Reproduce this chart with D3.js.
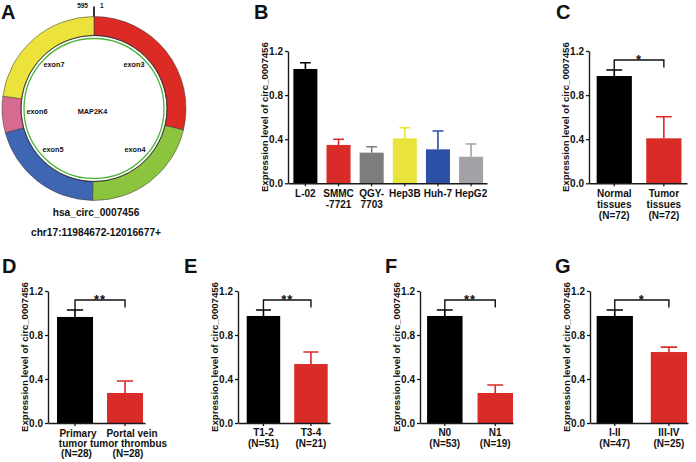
<!DOCTYPE html>
<html><head><meta charset="utf-8">
<script src="https://cdn.jsdelivr.net/npm/d3@7"></script>
<style>
body{margin:0;background:#fff}
svg{display:block}
text{font-family:"Liberation Sans",Arial,Helvetica,sans-serif;font-weight:bold;fill:#111}
</style>
</head><body>
<svg id="chart" width="696" height="462"></svg>
<script>
// ---------- Panel A data ----------
const exonNames = ["exon3", "exon4", "exon5", "exon6", "exon7"];
const exonLengths = [171, 128, 122, 38, 136];
const exonColors = ["#dc2a25", "#8cc43e", "#3e66b3", "#d76b8f", "#ebe33b"];
const circName = "hsa_circ_0007456";
const circLocus = "chr17:11984672-12016677+";
const hostGene = "MAP2K4";
const circEndLabels = ["595", "1"];

// ---------- Shared axis ----------
const yTicks = [0, 0.4, 0.8, 1.2];
const yTitle = "Expression level of circ_0007456";

// ---------- Panel B data ----------
const cellLines = ["L-02", "SMMC-7721", "QGY-7703", "Hep3B", "Huh-7", "HepG2"];
const cellLabels = [["L-02"], ["SMMC", "-7721"], ["QGY-", "7703"], ["Hep3B"], ["Huh-7"], ["HepG2"]];
const cellMeans = [1.037, 0.348, 0.278, 0.408, 0.308, 0.241];
const cellErr = [0.057, 0.052, 0.054, 0.096, 0.166, 0.115];
const cellColors = ["#000000", "#d92b27", "#7d7d7d", "#e8e43c", "#2b50a5", "#a2a2a6"];

// ---------- Panel C data ----------
const tissueLabels = [["Normal", "tissues", "(N=72)"], ["Tumor", "tissues", "(N=72)"]];
const tissueMeans = [0.973, 0.408];
const tissueErr = [0.055, 0.196];

// ---------- Panel D data ----------
const pvttLabels = [["Primary", "tumor", "(N=28)"], ["Portal vein", "tumor thrombus", "(N=28)"]];
const pvttMeans = [0.964, 0.273];
const pvttErr = [0.063, 0.109];

// ---------- Panel E data ----------
const tLabels = [["T1-2", "(N=51)"], ["T3-4", "(N=21)"]];
const tMeans = [0.973, 0.536];
const tErr = [0.054, 0.109];

// ---------- Panel F data ----------
const nLabels = [["N0", "(N=53)"], ["N1", "(N=19)"]];
const nMeans = [0.973, 0.273];
const nErr = [0.054, 0.072];

// ---------- Panel G data ----------
const stageLabels = [["I-II", "(N=47)"], ["III-IV", "(N=25)"]];
const stageMeans = [0.973, 0.645];
const stageErr = [0.054, 0.045];

const pairColors = ["#000000", "#d92b27"];
const sigMarks = ["*", "**", "**", "**", "*"];

const svg = d3.select("#chart");

// ---------- Panel A ----------
(function () {
  const cx = 94, cy = 108.5, rOut = 92, rIn = 73;
  const g = svg.append("g").attr("transform", `translate(${cx},${cy})`);
  const pie = d3.pie().sort(null).value(d => d)(exonLengths);
  const arc = d3.arc().innerRadius(rIn).outerRadius(rOut);
  g.selectAll("path.seg").data(pie).enter().append("path")
    .attr("class", "seg")
    .attr("d", arc)
    .attr("fill", (d, i) => exonColors[i])
    .attr("stroke", "#333").attr("stroke-width", 0.5);
  g.append("circle").attr("r", rIn).attr("fill", "none").attr("stroke", "#222").attr("stroke-width", 0.8);
  g.append("circle").attr("r", rIn - 3).attr("fill", "none").attr("stroke", "#4db33a").attr("stroke-width", 1.3);
  // start tick
  g.append("line").attr("x1", 0).attr("x2", 0).attr("y1", -rOut - 10).attr("y2", -rOut)
    .attr("stroke", "#000").attr("stroke-width", 1.6);
  g.append("text").attr("x", -6).attr("y", -rOut - 8.5).attr("text-anchor", "end")
    .attr("font-size", 6.5).text(circEndLabels[0]);
  g.append("text").attr("x", 6).attr("y", -rOut - 8.5).attr("text-anchor", "start")
    .attr("font-size", 6.5).text(circEndLabels[1]);
  // exon labels
  const labelPos = [[40, -42], [41, 43], [-41, 43], [-57, 5], [-40, -42]];
  exonNames.forEach((name, i) => {
    g.append("text").attr("x", labelPos[i][0]).attr("y", labelPos[i][1])
      .attr("text-anchor", "middle").attr("font-size", 7.3).text(name);
  });
  g.append("text").attr("x", -1.5).attr("y", 5).attr("text-anchor", "middle")
    .attr("font-size", 7.3).text(hostGene);
  svg.append("text").attr("x", cx + 2).attr("y", 216).attr("text-anchor", "middle")
    .attr("font-size", 10.2).text(circName);
  svg.append("text").attr("x", cx + 2).attr("y", 235.5).attr("text-anchor", "middle")
    .attr("font-size", 10.2).text(circLocus);
})();

// ---------- generic bar panel ----------
function barPanel(cfg) {
  const n = cfg.means.length;
  const g = svg.append("g");
  const x = d3.scaleBand().domain(d3.range(n)).range([cfg.x0, cfg.x1])
    .paddingInner(cfg.pi).paddingOuter(cfg.po).align(cfg.al);
  const y = d3.scaleLinear().domain([0, 1.2]).range([cfg.yb, cfg.yt]);
  const bw = x.bandwidth();
  const cap = bw * 0.45;

  // bars
  g.selectAll("rect.bar").data(cfg.means).enter().append("rect")
    .attr("x", (d, i) => x(i)).attr("width", bw)
    .attr("y", d => y(d)).attr("height", d => y(0) - y(d))
    .attr("fill", (d, i) => cfg.colors[i]);
  // error bars (upper only)
  cfg.means.forEach((m, i) => {
    const cxp = x(i) + bw / 2, top = y(m + cfg.errs[i]);
    g.append("path")
      .attr("d", `M${cxp},${y(m)}V${top}M${cxp - cap / 2},${top}H${cxp + cap / 2}`)
      .attr("stroke", cfg.colors[i]).attr("stroke-width", 1.6).attr("fill", "none");
  });

  // y axis
  const ya = g.append("g").attr("transform", `translate(${cfg.x0},0)`)
    .call(d3.axisLeft(y).tickValues(yTicks).tickFormat(d3.format(".1f")).tickSize(3).tickSizeOuter(0).tickPadding(2));
  // x axis
  const xa = g.append("g").attr("transform", `translate(0,${cfg.yb})`)
    .call(d3.axisBottom(x).tickSize(3).tickSizeOuter(0).tickFormat(""));
  [ya, xa].forEach(a => {
    a.select(".domain").attr("stroke", "#1a1a1a").attr("stroke-width", 1.4);
    a.selectAll(".tick line").attr("stroke", "#1a1a1a").attr("stroke-width", 1.3);
    a.selectAll(".tick text").attr("font-size", 10).attr("fill", "#111")
      .style("font-family", '"Liberation Sans",Arial,sans-serif').style("font-weight", "bold");
  });

  // category labels
  cfg.labels.forEach((lines, i) => {
    const t = g.append("text").attr("text-anchor", "middle").attr("font-size", 10);
    lines.forEach((ln, k) => {
      const dx = cfg.labDx ? cfg.labDx[i][k] : 0;
      t.append("tspan").attr("x", x(i) + bw / 2 + dx).attr("y", cfg.yb + cfg.lab0 + k * cfg.labStep).text(ln);
    });
  });

  // y title
  g.append("text")
    .attr("transform", `translate(${cfg.x0 - 20},${(cfg.yt + cfg.yb) / 2}) rotate(-90)`)
    .attr("text-anchor", "middle").attr("font-size", 9.6).text(yTitle);

  // panel letter
  svg.append("text").attr("x", cfg.letterX).attr("y", cfg.letterY)
    .attr("font-size", 20).attr("fill", "#000").text(cfg.letter);

  // significance bracket
  if (cfg.sig) {
    const xl = x(0) + bw / 2, xr = x(1) + bw / 2;
    const yl = y(cfg.means[0] + cfg.errs[0]), yTop = y(1.118), yr = y(1.05);
    g.append("path").attr("d", `M${xl},${yl}V${yTop}H${xr}V${yr}`)
      .attr("stroke", "#111").attr("stroke-width", 1.4).attr("fill", "none");
    g.append("text").attr("x", (xl + xr) / 2).attr("y", yTop + 4)
      .attr("text-anchor", "middle").attr("font-size", 13).attr("letter-spacing", 1).text(cfg.sig);
  }
}

// letter A
svg.append("text").attr("x", 1).attr("y", 18.5).attr("font-size", 20).attr("fill", "#000").text("A");

barPanel({ letter: "B", letterX: 254, letterY: 18.5, means: cellMeans, errs: cellErr, colors: cellColors,
  labels: cellLabels, x0: 288, x1: 487, pi: 0.275, po: 0.14, al: 0.58, yt: 51, yb: 183.3, lab0: 13.5, labStep: 11.5 });
barPanel({ letter: "C", letterX: 556, letterY: 18.5, means: tissueMeans, errs: tissueErr, colors: pairColors,
  labels: tissueLabels, x0: 589, x1: 687, pi: 0.29, po: 0.133, al: 0.58, yt: 51, yb: 183.3, lab0: 13.5, labStep: 11, sig: sigMarks[0] });
barPanel({ letter: "D", letterX: 2, letterY: 273, means: pvttMeans, errs: pvttErr, colors: pairColors,
  labels: pvttLabels, labDx: [[3, -2, 1.5], [7, 3.5, 3]],
  x0: 48, x1: 145, pi: 0.28, po: 0.11, al: 0.82, yt: 291, yb: 423, lab0: 14, labStep: 10, sig: sigMarks[1] });
barPanel({ letter: "E", letterX: 184, letterY: 273, means: tMeans, errs: tErr, colors: pairColors,
  labels: tLabels, x0: 238, x1: 330, pi: 0.295, po: 0.116, al: 0.79, yt: 291, yb: 423, lab0: 12.5, labStep: 11, sig: sigMarks[2] });
barPanel({ letter: "F", letterX: 385, letterY: 273, means: nMeans, errs: nErr, colors: pairColors,
  labels: nLabels, x0: 420, x1: 513, pi: 0.297, po: 0.07, al: 1, yt: 291, yb: 423, lab0: 12.5, labStep: 11, sig: sigMarks[3] });
barPanel({ letter: "G", letterX: 555, letterY: 273, means: stageMeans, errs: stageErr, colors: pairColors,
  labels: stageLabels, x0: 590, x1: 688, pi: 0.33, po: 0.07, al: 0.875, yt: 291, yb: 423, lab0: 12.5, labStep: 11, sig: sigMarks[4] });
</script>
</body></html>
